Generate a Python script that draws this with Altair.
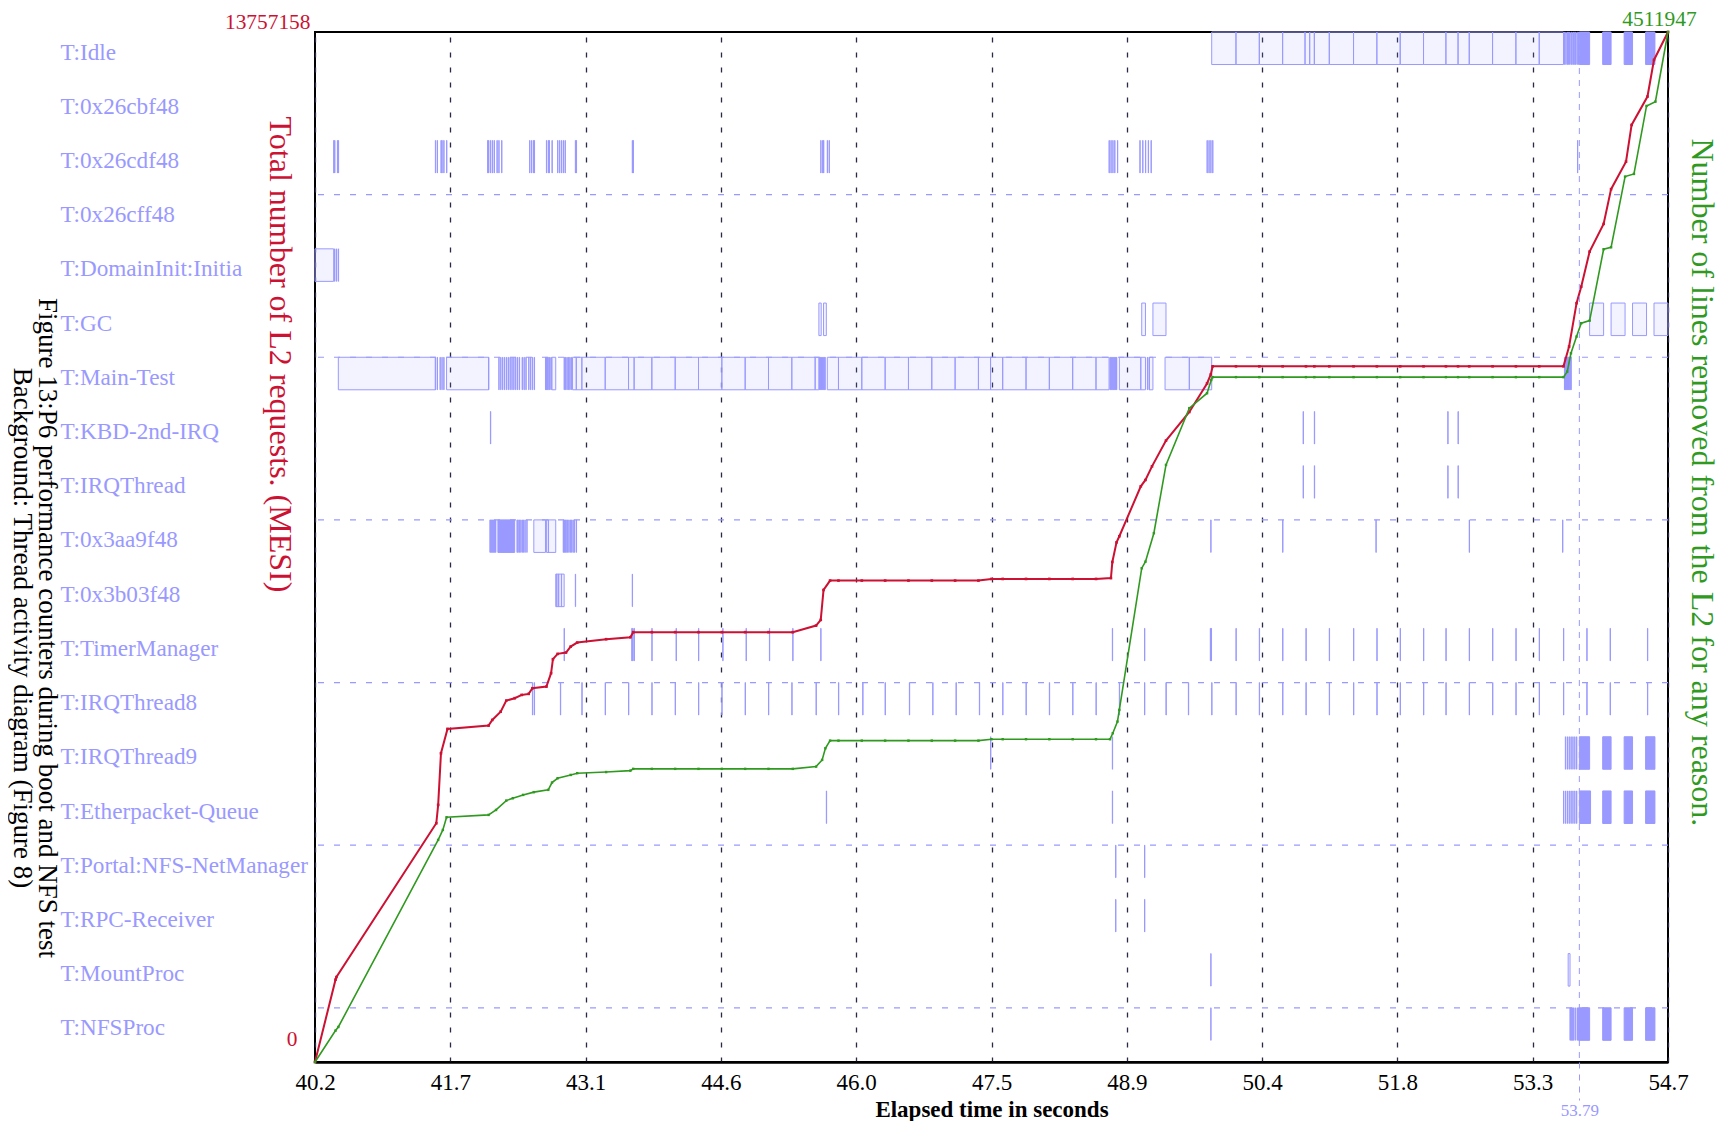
import altair as alt
import pandas as pd

FONT = "Liberation Serif"
RED = "#cc1133"
GREEN = "#2f9a1f"
LANE_BLUE = "#9999ff"
GRID = "#2a2a44"

LANES = ["T:Idle", "T:0x26cbf48", "T:0x26cdf48", "T:0x26cff48", "T:DomainInit:Initia",
         "T:GC", "T:Main-Test", "T:KBD-2nd-IRQ", "T:IRQThread", "T:0x3aa9f48",
         "T:0x3b03f48", "T:TimerManager", "T:IRQThread8", "T:IRQThread9",
         "T:Etherpacket-Queue", "T:Portal:NFS-NetManager", "T:RPC-Receiver",
         "T:MountProc", "T:NFSProc"]

X_MIN, X_MAX = 40.24, 54.74
X_TICKS = [40.24, 41.69, 43.14, 44.59, 46.04, 47.49, 48.94, 50.39, 51.84, 53.29, 54.74]
MARK_T = [53.79]
L2_MAX = 13757158
EVICT_MAX = 4511947
LANE_SEPARATORS = [3, 6, 9, 12, 15, 18]

# ---- thread activity: segment boundaries (consecutive boxes) ----
IDLE_SEGMENTS = [49.85, 50.11, 50.36, 50.61, 50.85, 50.90, 50.95, 51.11, 51.37, 51.62,
                 51.87, 52.12, 52.36, 52.49, 52.61, 52.86, 53.11, 53.36, 53.62]
MAIN_SEGMENTS_A = [43.10, 43.35, 43.60, 43.66, 43.85, 44.10, 44.35, 44.60, 44.85, 45.10,
                   45.35, 45.60, 45.64]
MAIN_SEGMENTS_B = [45.73, 45.85, 46.10, 46.35, 46.60, 46.85, 47.10, 47.35, 47.48, 47.61,
                   47.86, 48.11, 48.36, 48.61, 48.75]
MAIN_SEGMENTS_C = [48.86, 49.09, 49.14]
MAIN_SEGMENTS_D = [49.35, 49.61, 49.85]

# ---- thread activity: single boxes (start, end) per lane ----
BOXES = {
    4: [(40.24, 40.44)],
    5: [(45.64, 45.665), (45.69, 45.72), (49.10, 49.14), (49.22, 49.36),
        (53.90, 54.05), (54.13, 54.28), (54.36, 54.51), (54.59, 54.74)],
    6: [(40.49, 41.53), (41.65, 42.10), (42.78, 42.82), (43.00, 43.04), (43.04, 43.10),
        (49.18, 49.22)],
    9: [(42.585, 42.71), (42.72, 42.82)],
    10: [(42.82, 42.91)],
    17: [(53.67, 53.69)],
}

# ---- densely packed (solid) activity per lane ----
SOLIDS = {
    0: [(53.79, 53.90), (54.04, 54.13), (54.27, 54.36), (54.50, 54.60)],
    9: [(42.20, 42.38)],
    13: [(53.79, 53.90), (54.04, 54.13), (54.27, 54.36), (54.50, 54.60)],
    14: [(53.79, 53.91), (54.04, 54.13), (54.27, 54.36), (54.50, 54.60)],
    18: [(53.78, 53.90), (54.04, 54.13), (54.27, 54.36), (54.50, 54.60)],
}

# ---- short bursts (thin slices) per lane ----
SLICES = {
    0: [53.63, 53.645, 53.66, 53.67, 53.685, 53.70, 53.71, 53.725, 53.74, 53.75, 53.765, 53.78],
    2: [40.44, 40.45, 40.48, 40.49, 41.53, 41.55, 41.59, 41.60, 41.62, 41.65, 42.09, 42.10,
        42.12, 42.14, 42.16, 42.19, 42.21, 42.24, 42.54, 42.56, 42.58, 42.59, 42.72, 42.74,
        42.75, 42.78, 42.84, 42.86, 42.88, 42.90, 42.92, 43.03, 43.04, 43.64, 43.65, 45.66,
        45.68, 45.69, 45.73, 45.75, 48.75, 48.77, 48.79, 48.81, 48.84, 49.08, 49.11, 49.14,
        49.17, 49.20, 49.80, 49.82, 49.84, 49.86, 53.77],
    4: [40.45, 40.47, 40.49],
    6: [41.53, 41.55, 41.58, 41.60, 41.62, 42.10, 42.21, 42.23, 42.25, 42.27, 42.29, 42.31,
        42.33, 42.35, 42.37, 42.39, 42.41, 42.43, 42.46, 42.48, 42.50, 42.53, 42.55, 42.57,
        42.59, 42.71, 42.72, 42.73, 42.745, 42.755, 42.77, 42.91, 42.925, 42.94, 42.955,
        42.97, 42.985, 45.645, 45.655, 45.665, 45.675, 45.685, 45.695, 45.705, 48.76, 48.77,
        48.78, 48.79, 48.80, 48.81, 48.82, 48.83, 49.16, 49.18, 53.63, 53.64, 53.65, 53.66,
        53.67, 53.68, 53.69, 53.70],
    7: [42.12, 50.83, 50.95, 52.38, 52.49],
    8: [50.83, 50.95, 52.38, 52.49],
    9: [42.115, 42.125, 42.135, 42.145, 42.155, 42.165, 42.175, 42.405, 42.415, 42.43,
        42.445, 42.46, 42.475, 42.49, 42.51, 42.74, 42.90, 42.91, 42.92, 42.93, 42.945,
        42.96, 42.975, 42.99, 43.005, 43.02, 43.04, 49.84, 50.61, 51.61, 52.61, 53.61],
    10: [42.83, 42.85, 42.88, 43.03, 43.64],
    11: [42.91, 43.635, 43.645, 43.66, 43.85, 44.11, 44.35, 44.61, 44.86, 45.11, 45.36,
         45.66, 48.785, 49.13, 49.835, 49.845, 50.11, 50.36, 50.61, 50.86, 51.11, 51.37,
         51.62, 51.87, 52.12, 52.36, 52.61, 52.86, 53.11, 53.36, 53.62, 53.87, 54.12, 54.52],
    12: [42.57, 42.59, 42.87, 43.10, 43.35, 43.60, 43.85, 44.10, 44.35, 44.60, 44.85, 45.10,
         45.35, 45.61, 45.85, 46.11, 46.35, 46.61, 46.86, 47.11, 47.36, 47.61, 47.86, 48.11,
         48.36, 48.61, 48.86, 49.13, 49.36, 49.60, 49.85, 50.11, 50.36, 50.61, 50.86, 51.11,
         51.37, 51.62, 51.87, 52.12, 52.36, 52.61, 52.86, 53.11, 53.36, 53.62, 53.87, 54.12,
         54.52],
    13: [47.48, 48.785, 53.64, 53.66, 53.68, 53.70, 53.72, 53.74, 53.76],
    14: [45.72, 48.785, 53.62, 53.64, 53.66, 53.68, 53.70, 53.72, 53.74, 53.76],
    15: [48.82, 49.13],
    16: [48.82, 49.13],
    17: [49.84],
    18: [49.84, 53.69, 53.70, 53.71, 53.72, 53.73, 53.75, 53.77],
}

# ---- cumulative counters ----
RED_T = [40.24, 40.46, 40.47, 41.54, 41.56, 41.59, 41.66, 42.10, 42.14, 42.23, 42.29, 42.38,
         42.455, 42.53, 42.57, 42.72, 42.77, 42.79, 42.84, 42.93, 42.98, 43.05, 43.36, 43.62,
         43.65, 43.85, 44.10, 44.35, 44.60, 44.85, 45.10, 45.36, 45.61, 45.66, 45.69, 45.76,
         45.85, 46.10, 46.35, 46.60, 46.85, 47.10, 47.35, 47.49, 47.61, 47.86, 48.11, 48.36,
         48.61, 48.77, 48.785, 48.83, 48.86, 49.09, 49.14, 49.21, 49.36, 49.61, 49.80, 49.84,
         49.86, 50.11, 50.36, 50.61, 50.86, 50.95, 51.11, 51.37, 51.62, 51.87, 52.12, 52.36,
         52.49, 52.61, 52.86, 53.11, 53.36, 53.62, 53.68, 53.76, 53.81, 53.90, 54.05, 54.13,
         54.29, 54.35, 54.52, 54.59, 54.74]
RED_V = [0, 1100000, 1135000, 3189000, 3434000, 4124000, 4449000, 4493000, 4569000, 4680000,
         4827000, 4859000, 4903000, 4917000, 4992000, 5014000, 5193000, 5380000, 5451000,
         5469000, 5548000, 5602000, 5647000, 5673000, 5741000, 5741000, 5741000, 5741000,
         5741000, 5741000, 5741000, 5741000, 5829000, 5905000, 6305000, 6430000, 6430000,
         6430000, 6430000, 6430000, 6430000, 6430000, 6430000, 6452000, 6452000, 6452000,
         6452000, 6452000, 6452000, 6463000, 6678000, 6940000, 7022000, 7689000, 7774000,
         7956000, 8300000, 8682000, 9063000, 9183000, 9292000, 9292000, 9292000, 9292000,
         9292000, 9292000, 9292000, 9292000, 9292000, 9292000, 9292000, 9292000, 9292000,
         9292000, 9292000, 9292000, 9292000, 9292000, 9556000, 10135000, 10356000, 10824000,
         11194000, 11658000, 12026000, 12516000, 12895000, 13384000, 13757158]

GREEN_T = [40.24, 40.46, 40.49, 41.56, 41.61, 41.65, 42.10, 42.18, 42.29, 42.36, 42.47,
           42.585, 42.74, 42.78, 42.84, 42.98, 43.05, 43.36, 43.62, 43.65, 43.85, 44.10,
           44.35, 44.60, 44.85, 45.10, 45.36, 45.61, 45.675, 45.71, 45.76, 45.85, 46.10,
           46.35, 46.60, 46.85, 47.10, 47.35, 47.49, 47.61, 47.86, 48.11, 48.36, 48.61,
           48.76, 48.79, 48.84, 48.86, 49.10, 49.14, 49.23, 49.36, 49.61, 49.80, 49.845,
           49.86, 50.11, 50.36, 50.61, 50.86, 50.95, 51.11, 51.37, 51.62, 51.87, 52.12,
           52.36, 52.49, 52.61, 52.86, 53.11, 53.36, 53.62, 53.66, 53.70, 53.76, 53.81,
           53.90, 54.05, 54.13, 54.28, 54.375, 54.51, 54.605, 54.74]
GREEN_V = [0, 137600, 153400, 972800, 1016500, 1072000, 1082400, 1104100, 1145100, 1155500,
           1170000, 1182100, 1192100, 1224100, 1243000, 1257500, 1265150, 1270100, 1276400,
           1284100, 1284100, 1284100, 1284100, 1284100, 1284100, 1284100, 1284100, 1294000,
           1323300, 1374350, 1407700, 1407700, 1407700, 1407700, 1407700, 1407700, 1407700,
           1407700, 1414000, 1414000, 1414000, 1414000, 1414000, 1414000, 1414000, 1440200,
           1491200, 1542200, 2163000, 2191900, 2316400, 2615600, 2864200, 2929600, 2987800,
           3000000, 3000000, 3000000, 3000000, 3000000, 3000000, 3000000, 3000000, 3000000,
           3000000, 3000000, 3000000, 3000000, 3000000, 3000000, 3000000, 3000000, 3000000,
           3024400, 3104700, 3177800, 3236400, 3247700, 3560400, 3568900, 3878500, 3890200,
           4188000, 4207000, 4511947]

TITLE_LEFT = "Total number of L2 requests. (MESI)"
TITLE_RIGHT = "Number of lines removed from the L2 for any reason."
X_TITLE = "Elapsed time in seconds"
CAPTION = ["Figure 13:P6 performance counters during boot and NFS test",
           "Background: Thread activity diagram (Figure 8)"]

BAR_H = 0.6
SLICE_W = 0.003

# ---------- build tables ----------
rows = []
def add(lane, t0, t1, kind):
    rows.append({"t0": t0, "t1": t1, "y0": lane, "y1": lane + BAR_H, "kind": kind})

for seg_lane, seg in [(0, IDLE_SEGMENTS), (6, MAIN_SEGMENTS_A), (6, MAIN_SEGMENTS_B),
                      (6, MAIN_SEGMENTS_C), (6, MAIN_SEGMENTS_D)]:
    for a, b in zip(seg[:-1], seg[1:]):
        add(seg_lane, a, b, "box")
for lane, pairs in BOXES.items():
    for a, b in pairs:
        add(lane, a, b, "box")
for lane, pairs in SOLIDS.items():
    for a, b in pairs:
        add(lane, a, b, "solid")
for lane, ts in SLICES.items():
    for t in ts:
        add(lane, t, t + SLICE_W, "box")
bars_df = pd.DataFrame(rows)
sep_df = pd.DataFrame({"y": LANE_SEPARATORS})
red_df = pd.DataFrame({"t": RED_T, "v": RED_V})
green_df = pd.DataFrame({"t": GREEN_T, "v": GREEN_V})
mark_df = pd.DataFrame({"t": MARK_T})

W, H = 1353, 1030
NLANE = len(LANES)
xscale = alt.Scale(domain=[X_MIN, X_MAX], nice=False, zero=False)
lanescale = alt.Scale(domain=[0, NLANE], nice=False, zero=False, reverse=True)
redscale = alt.Scale(domain=[0, L2_MAX], nice=False, zero=True)
greenscale = alt.Scale(domain=[0, EVICT_MAX], nice=False, zero=True)

lane_expr = "[" + ",".join("'" + n + "'" for n in LANES) + "][round(datum.value - 0.37)]"

x_axis = alt.Axis(orient="bottom", values=X_TICKS, format=".1f", labelFont=FONT,
                  labelFontSize=23, labelColor="black", labelPadding=9, labelBaseline="top",
                  labelFlush=False, labelOverlap=False, ticks=False, tickSize=0,
                  domainColor="black", domainWidth=2.5,
                  grid=True, gridColor=GRID, gridDash=[5, 10], gridWidth=1.3,
                  title=X_TITLE, titleFont=FONT, titleFontSize=23, titleFontWeight="bold",
                  titleColor="black", titleY=47, titleBaseline="middle")

mark_axis = alt.Axis(orient="bottom", values=MARK_T, format=".2f", labelFont=FONT,
                     labelFontSize=17, labelColor=LANE_BLUE, labelPadding=2,
                     labelBaseline="top", labelFlush=False, labelOverlap=False,
                     ticks=True, tickSize=38, tickColor=LANE_BLUE, tickDash=[6, 6],
                     tickWidth=1, domain=False, grid=False, title=None)

lane_axis = alt.Axis(orient="left", values=[i + 0.37 for i in range(NLANE)],
                     labelExpr=lane_expr, labelAlign="left", labelBaseline="middle",
                     labelPadding=255, labelColor=LANE_BLUE, labelFont=FONT,
                     labelFontSize=23.2, labelFlush=False, labelOverlap=False,
                     labelLimit=400, ticks=False, tickSize=0, domain=False, grid=False,
                     title=None)

red_axis = alt.Axis(orient="left", values=[0, L2_MAX], format="d", labelColor=RED,
                    labelFont=FONT, labelFontSize=21.4, labelBaseline="middle",
                    labelAlign="right", labelFlush=False, labelOverlap=False,
                    labelOffset={"condition": {"test": "datum.value == 0", "value": -23},
                                 "value": -10},
                    labelPadding={"condition": {"test": "datum.value == 0", "value": 18},
                                  "value": 5},
                    ticks=False, tickSize=0, domain=False, grid=False,
                    title=TITLE_LEFT, titleColor=RED, titleFont=FONT, titleFontSize=32,
                    titleFontWeight="normal", titleAngle=90, titleAlign="left",
                    titleBaseline="middle", titleX=-36, titleY=84)

green_axis = alt.Axis(orient="right", values=[EVICT_MAX], format="d", labelColor=GREEN,
                      labelFont=FONT, labelFontSize=21.5, labelBaseline="middle",
                      labelAlign="center", labelPadding=-9, labelOffset=-13,
                      labelFlush=False, labelOverlap=False,
                      ticks=False, tickSize=0, domain=False, grid=False,
                      title=TITLE_RIGHT, titleColor=GREEN, titleFont=FONT, titleFontSize=32,
                      titleFontWeight="normal", titleAngle=90, titleAlign="left",
                      titleBaseline="middle", titleX=33, titleY=106)

bars = alt.Chart(bars_df).mark_rect(fill=LANE_BLUE, stroke=LANE_BLUE, strokeWidth=1).encode(
    x=alt.X("t0:Q", scale=xscale, axis=x_axis),
    x2="t1:Q",
    y=alt.Y("y0:Q", scale=lanescale, axis=lane_axis),
    y2="y1:Q",
    fillOpacity=alt.FillOpacity("kind:N", scale=alt.Scale(domain=["box", "solid"],
                                range=[0.12, 1.0]), legend=None),
)
seps = alt.Chart(sep_df).mark_rule(color=LANE_BLUE, strokeDash=[6, 10], strokeWidth=1.2).encode(
    y=alt.Y("y:Q", scale=lanescale, axis=None)
)
red_line = alt.Chart(red_df).mark_line(color=RED, strokeWidth=2).encode(
    x=alt.X("t:Q", scale=xscale, axis=None),
    y=alt.Y("v:Q", scale=redscale, axis=red_axis))
red_pts = alt.Chart(red_df).mark_point(shape="square", filled=True, size=7, color=RED,
                                       opacity=1).encode(
    x=alt.X("t:Q", scale=xscale, axis=None),
    y=alt.Y("v:Q", scale=redscale, axis=None))
green_line = alt.Chart(green_df).mark_line(color=GREEN, strokeWidth=1.6).encode(
    x=alt.X("t:Q", scale=xscale, axis=None),
    y=alt.Y("v:Q", scale=greenscale, axis=green_axis))
green_pts = alt.Chart(green_df).mark_point(shape="square", filled=True, size=6, color=GREEN,
                                           opacity=1).encode(
    x=alt.X("t:Q", scale=xscale, axis=None),
    y=alt.Y("v:Q", scale=greenscale, axis=None))
marker = alt.Chart(mark_df).mark_rule(color=LANE_BLUE, strokeDash=[6, 6], strokeWidth=1).encode(
    x=alt.X("t:Q", scale=xscale, axis=mark_axis)
)

chart = alt.layer(bars, seps, red_line, red_pts, green_line, green_pts, marker).resolve_scale(
    y="independent"
).resolve_axis(x="independent").properties(
    width=W, height=H,
    padding={"left": 0, "top": 0, "right": 5, "bottom": 0},
    title=alt.TitleParams(text=CAPTION, orient="left", angle=90, baseline="top",
                          anchor="middle", offset=-52, dx=81, fontSize=27, font=FONT,
                          fontWeight="normal", color="black", lineHeight=25),
    background="white",
).configure_view(stroke="black", strokeWidth=2)

chart.save("out.html", embed_options={"renderer": "svg", "actions": False})
